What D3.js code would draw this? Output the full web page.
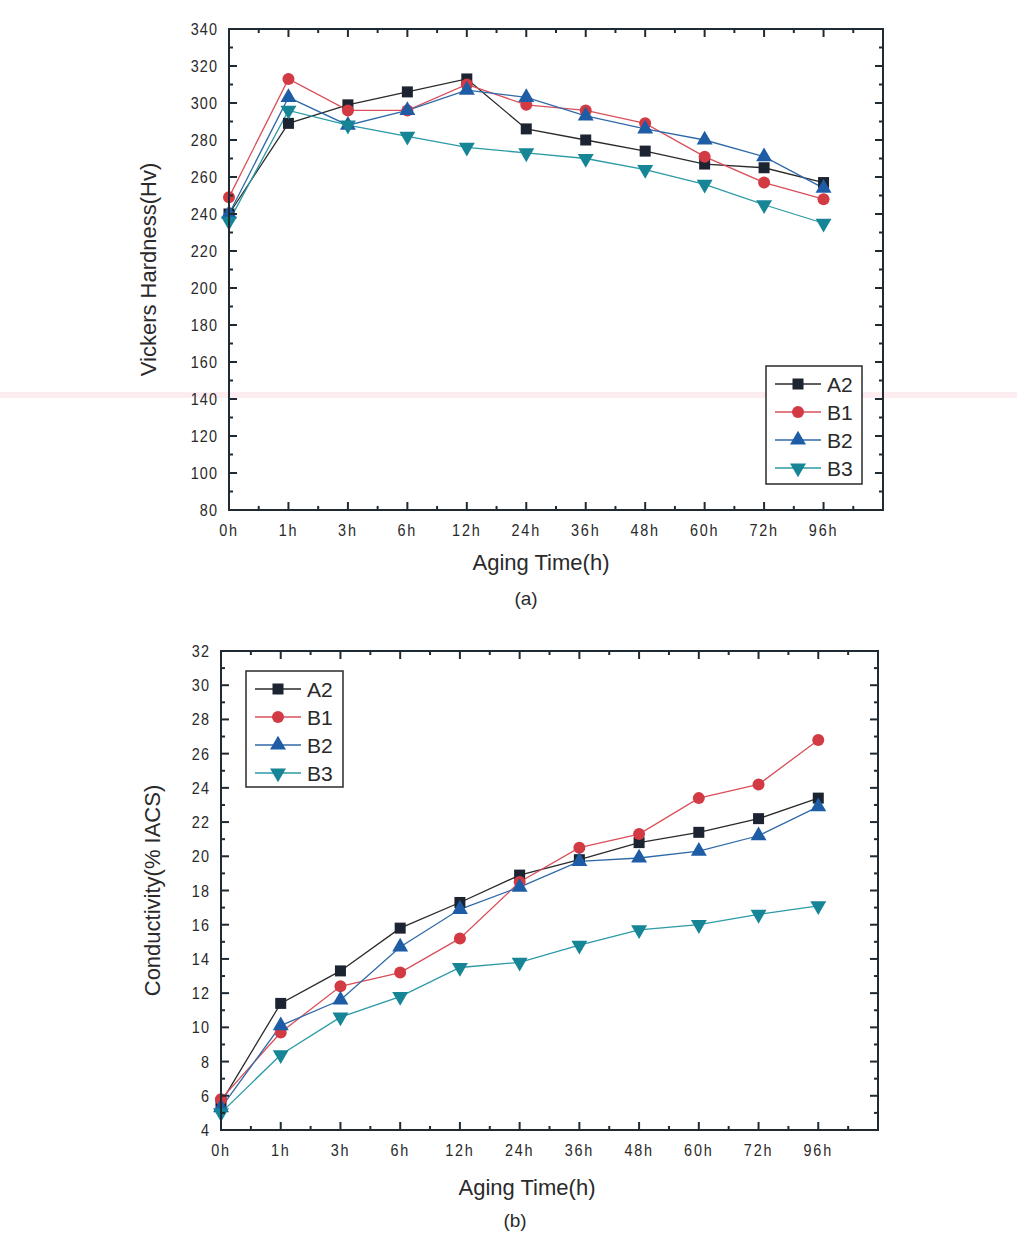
<!DOCTYPE html>
<html><head><meta charset="utf-8">
<script src="https://cdn.jsdelivr.net/npm/d3@7"></script>
<style>
html,body{margin:0;padding:0;background:#fff;}
svg{display:block;}
text{font-family:"Liberation Sans Narrow","Liberation Sans",Arial,sans-serif;fill:#2a2a2a;}
</style></head>
<body>
<script>
const categories = ["0h","1h","3h","6h","12h","24h","36h","48h","60h","72h","96h"];
const seriesNames = ["A2","B1","B2","B3"];
// (a) Vickers hardness
const hardA2 = [240,289,299,306,313,286,280,274,267,265,257];
const hardB1 = [249,313,296,296,310,299,296,289,271,257,248];
const hardB2 = [240,303,288,296,307,303,293,286,280,271,254];
const hardB3 = [236,296,288,282,276,273,270,264,256,245,235];
const hardTicks = [80,100,120,140,160,180,200,220,240,260,280,300,320,340];
// (b) Conductivity
const condA2 = [5.6,11.4,13.3,15.8,17.3,18.9,19.8,20.8,21.4,22.2,23.4];
const condB1 = [5.8,9.7,12.4,13.2,15.2,18.5,20.5,21.3,23.4,24.2,26.8];
const condB2 = [5.3,10.1,11.6,14.7,16.9,18.2,19.7,19.9,20.3,21.2,22.9];
const condB3 = [5.0,8.4,10.6,11.8,13.5,13.8,14.8,15.7,16.0,16.6,17.1];
const condTicks = [4,6,8,10,12,14,16,18,20,22,24,26,28,30,32];

const colors = {A2:"#1b2430", B1:"#d23a44", B2:"#1f5ca6", B3:"#168596"};
const lineColors = {A2:"#2a2a2a", B1:"#d9505a", B2:"#2f6aa8", B3:"#2a9aa6"};

const W = 1017, H = 1258;
const svg = d3.select("body").append("svg").attr("width", W).attr("height", H);

// faint scan artifact band
svg.append("rect").attr("x",0).attr("y",392).attr("width",W).attr("height",6).attr("fill","#fdedf0");

function marker(g, name, x, y) {
  const c = colors[name];
  if (name === "A2") {
    g.append("rect").attr("x", x-5.5).attr("y", y-5.5).attr("width", 11).attr("height", 11).attr("fill", c);
  } else if (name === "B1") {
    g.append("circle").attr("cx", x).attr("cy", y).attr("r", 6).attr("fill", c);
  } else if (name === "B2") {
    g.append("path").attr("d", d3.symbol(d3.symbolTriangle, 110)()).attr("transform", `translate(${x},${y})`).attr("fill", c);
  } else {
    g.append("path").attr("d", d3.symbol(d3.symbolTriangle, 110)()).attr("transform", `translate(${x},${y}) rotate(180)`).attr("fill", c);
  }
}

function drawChart(opt) {
  const {left, right, top, bottom, yMin, yMax, yTicks, yMinorStep, data, legend, ytitle, ytitleX, xtitleX, xtitleY, capX, capY, cap, xLabelY} = opt;
  const x = d3.scaleLinear().domain([0, 11]).range([left, right]);
  const y = d3.scaleLinear().domain([yMin, yMax]).range([bottom, top]);
  const g = svg.append("g");

  seriesNames.forEach(n => {
    const vals = data[n];
    const line = d3.line().x((d,i)=>x(i)).y(d=>y(d));
    g.append("path").datum(vals).attr("d", line).attr("fill","none")
      .attr("stroke", lineColors[n]).attr("stroke-width", 1.3);
  });
  seriesNames.forEach(n => {
    data[n].forEach((v,i) => marker(g, n, x(i), y(v)));
  });

  g.append("rect").attr("x", left).attr("y", top).attr("width", right-left).attr("height", bottom-top)
    .attr("fill","none").attr("stroke","#1f2a33").attr("stroke-width", 2);

  const tickCol = "#1f2a33";
  const minorY = d3.range(yMin, yMax + 1e-9, yMinorStep);
  minorY.forEach(v => {
    const isMajor = yTicks.some(t => Math.abs(t - v) < 1e-9);
    const len = isMajor ? 8 : 4;
    g.append("line").attr("x1", left).attr("x2", left+len).attr("y1", y(v)).attr("y2", y(v)).attr("stroke", tickCol).attr("stroke-width", 2);
    g.append("line").attr("x1", right).attr("x2", right-len).attr("y1", y(v)).attr("y2", y(v)).attr("stroke", tickCol).attr("stroke-width", 2);
  });
  d3.range(0, 11.01, 0.5).forEach(v => {
    const isMajor = Math.abs(v - Math.round(v)) < 1e-9;
    const len = isMajor ? 8 : 4;
    g.append("line").attr("x1", x(v)).attr("x2", x(v)).attr("y1", bottom).attr("y2", bottom-len).attr("stroke", tickCol).attr("stroke-width", 2);
    g.append("line").attr("x1", x(v)).attr("x2", x(v)).attr("y1", top).attr("y2", top+len).attr("stroke", tickCol).attr("stroke-width", 2);
  });

  yTicks.forEach(t => {
    g.append("text").attr("transform", `translate(${left-11},${y(t)+6}) scale(0.9,1)`).attr("text-anchor","end")
      .attr("font-size", 16).attr("letter-spacing", 1.2).text(t);
  });
  categories.forEach((c,i) => {
    g.append("text").attr("transform", `translate(${x(i)},${xLabelY}) scale(0.9,1)`).attr("text-anchor","middle")
      .attr("font-size", 16).attr("letter-spacing", 2).text(c);
  });

  g.append("text").attr("transform", `translate(${ytitleX},${(top+bottom)/2}) rotate(-90)`)
    .attr("text-anchor","middle").attr("font-size", 22).attr("font-family","'Liberation Sans',Arial,sans-serif").text(ytitle);
  g.append("text").attr("x", xtitleX).attr("y", xtitleY).attr("text-anchor","middle")
    .attr("font-size", 22).attr("font-family","'Liberation Sans',Arial,sans-serif").text("Aging Time(h)");
  g.append("text").attr("x", capX).attr("y", capY).attr("text-anchor","middle")
    .attr("font-size", 19).attr("font-family","'Liberation Sans',Arial,sans-serif").text(cap);

  const lg = g.append("g");
  lg.append("rect").attr("x", legend.x).attr("y", legend.y).attr("width", legend.w).attr("height", legend.h)
    .attr("fill","#fff").attr("stroke","#2a2a2a").attr("stroke-width", 1.5);
  seriesNames.forEach((n,i) => {
    const ly = legend.y + 18 + i*28;
    lg.append("line").attr("x1", legend.x+9).attr("x2", legend.x+55).attr("y1", ly).attr("y2", ly)
      .attr("stroke", lineColors[n]).attr("stroke-width", 1.3);
    marker(lg, n, legend.x+32, ly);
    lg.append("text").attr("x", legend.x+61).attr("y", ly+8).attr("font-size", 21)
      .attr("font-family","'Liberation Sans',Arial,sans-serif").text(n);
  });
}

drawChart({
  left: 229, right: 883, top: 29, bottom: 510,
  yMin: 80, yMax: 340, yTicks: hardTicks, yMinorStep: 10,
  data: {A2: hardA2, B1: hardB1, B2: hardB2, B3: hardB3},
  legend: {x: 766, y: 366, w: 96, h: 118},
  ytitle: "Vickers Hardness(Hv)", ytitleX: 156, xtitleX: 541, xtitleY: 570, capX: 526, capY: 605, cap: "(a)", xLabelY: 536
});

drawChart({
  left: 221, right: 878, top: 651, bottom: 1130,
  yMin: 4, yMax: 32, yTicks: condTicks, yMinorStep: 1,
  data: {A2: condA2, B1: condB1, B2: condB2, B3: condB3},
  legend: {x: 246, y: 671, w: 97, h: 116},
  ytitle: "Conductivity(% IACS)", ytitleX: 160, xtitleX: 527, xtitleY: 1195, capX: 515, capY: 1227, cap: "(b)", xLabelY: 1156
});
</script>
</body></html>
